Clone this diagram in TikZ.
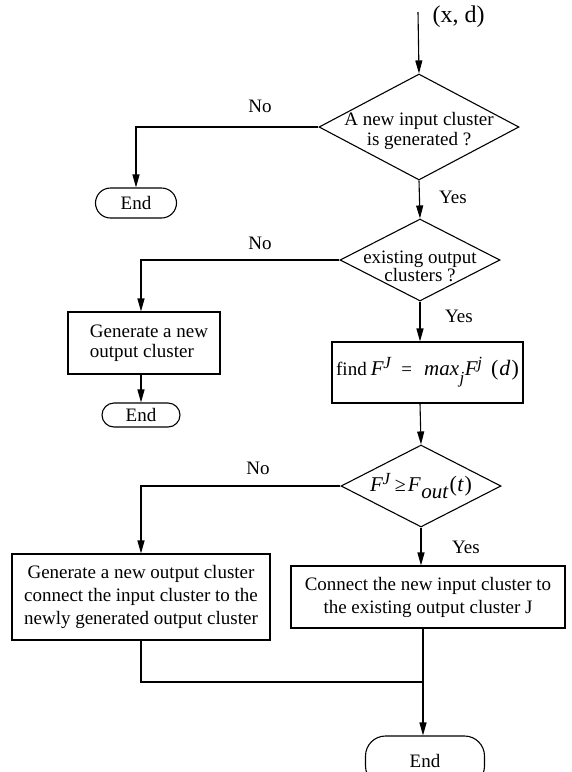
\documentclass[tikz,border=0pt]{standalone}
\usepackage{fontspec}
\setmainfont{Liberation Serif}
\usetikzlibrary{shapes.geometric,arrows.meta}
\newcommand{\dtxt}[2]{\makebox[0pt]{\raisebox{#1}[0pt][0pt]{\begin{tabular}{@{}c@{}}#2\end{tabular}}}}
\newcommand{\sps}[1]{\raisebox{0.8ex}{\fontsize{17}{17}\selectfont\textit{#1}}}
\newcommand{\sbs}[1]{\raisebox{-0.75ex}{\fontsize{21}{21}\selectfont\textit{#1}}}
\newcommand{\mi}[1]{{\fontsize{21}{21}\selectfont\textit{#1}}}
\begin{document}
\begin{tikzpicture}[x=1pt,y=-1pt,line width=1.1pt,
  every node/.style={font=\fontsize{19}{20}\selectfont, inner sep=0pt},
  arr/.style={-{Triangle[length=13pt,width=7pt]}},
  dec/.style={draw, diamond, inner sep=0pt},
  procbox/.style={draw, rectangle, inner sep=0pt, align=center},
  term/.style={draw, rectangle, inner sep=0pt},
  lbl/.style={inner sep=0pt}]
\useasboundingbox (0,0) rectangle (571,772);
\clip (0,0) rectangle (571,772);

% input
\coordinate (in) at (418,12);
\node[lbl, anchor=west] (xd) at (432,17) {\fontsize{24}{26}\selectfont (x, d)};

% decision 1
\node[dec, minimum width=200pt, minimum height=106pt] (d1) at (419,127)
  {\dtxt{-9pt}{A new input cluster\\is generated ?}};
\node[lbl] (no1) at (260,106) {No};
\node[term, rounded corners=15pt, minimum width=81pt, minimum height=30pt] (end1) at (136,203) {End};
\node[lbl] (yes1) at (453,197) {Yes};

% decision 2
\node[dec, minimum width=160pt, minimum height=82pt] (d2) at (420,260)
  {\dtxt{-13pt}{existing output\\[-2pt]clusters ?}};
\node[lbl] (no2) at (260,243) {No};
\node[procbox, minimum width=152pt, minimum height=62pt, align=left] (g2) at (144,343)
  {\hspace*{10pt}\begin{tabular}{@{}l@{}}Generate a new\\output cluster\end{tabular}};
\node[term, rounded corners=12pt, minimum width=78pt, minimum height=24pt] (end2) at (141,415) {End};
\node[lbl] (yes2) at (459,316) {Yes};

% find box
\node[procbox, minimum width=191pt, minimum height=61pt] (find) at (427.5,372.5)
  {find\hspace{4pt}\mi{F}\kern-0.5pt\sps{J}\hspace{10pt}=\hspace{12pt}\mi{max}\kern0.5pt\raisebox{-0.9ex}{\fontsize{17}{17}\selectfont\textit{j}}\kern0.5pt\mi{F}\kern-0.5pt\sps{j}\hspace{9pt}{\fontsize{22}{22}\selectfont(\kern1pt\textit{d}\kern1pt)}};

% decision 3
\node[dec, minimum width=160pt, minimum height=82pt] (d3) at (421,486)
  {\makebox[0pt]{\raisebox{-1pt}{\mi{F}\kern-0.5pt\sps{J}\hspace{4pt}{\fontsize{20}{20}\selectfont≥}\kern2pt\mi{F}\kern0.5pt\sbs{out}\kern1pt{\fontsize{22}{22}\selectfont(\kern0.5pt\textit{t}\kern0.5pt)}}}};
\node[lbl] (no3) at (258,468) {No};
\node[lbl] (yes3) at (466,547) {Yes};

% bottom boxes
\node[procbox, minimum width=258pt, minimum height=86pt, font=\fontsize{19}{23}\selectfont] (l3) at (141,597)
  {Generate a new output cluster\\connect the input cluster to the\\newly generated output cluster};
\node[procbox, minimum width=274pt, minimum height=62pt, font=\fontsize{19}{23}\selectfont] (r3) at (428,597)
  {Connect the new input cluster to\\the existing output cluster J};

\coordinate (join) at (423,682);
\node[term, rounded corners=20pt, minimum width=119pt, minimum height=50pt] (end3) at (425,761) {End};

% connectors
\draw[arr] (in) -- (d1.north);
\draw[arr] (d1.west) -| (end1.north);
\draw[arr] (d1.south) -- (d2.north);
\draw[arr] (d2.west) -| (g2.north -| end2.north);
\draw[arr] (g2.south -| end2.north) -- (end2.north);
\draw[arr] (d2.south) -- (d2.south |- find.north);
\draw[arr] (d2.south |- find.south) -- (d3.north);
\draw[arr] (d3.west) -| (l3.north);
\draw[arr] (d3.south) -- (d3.south |- r3.north);
\draw (l3.south) |- (join);
\draw[arr] (join |- r3.south) -- (join |- end3.north);
\end{tikzpicture}
\end{document}
